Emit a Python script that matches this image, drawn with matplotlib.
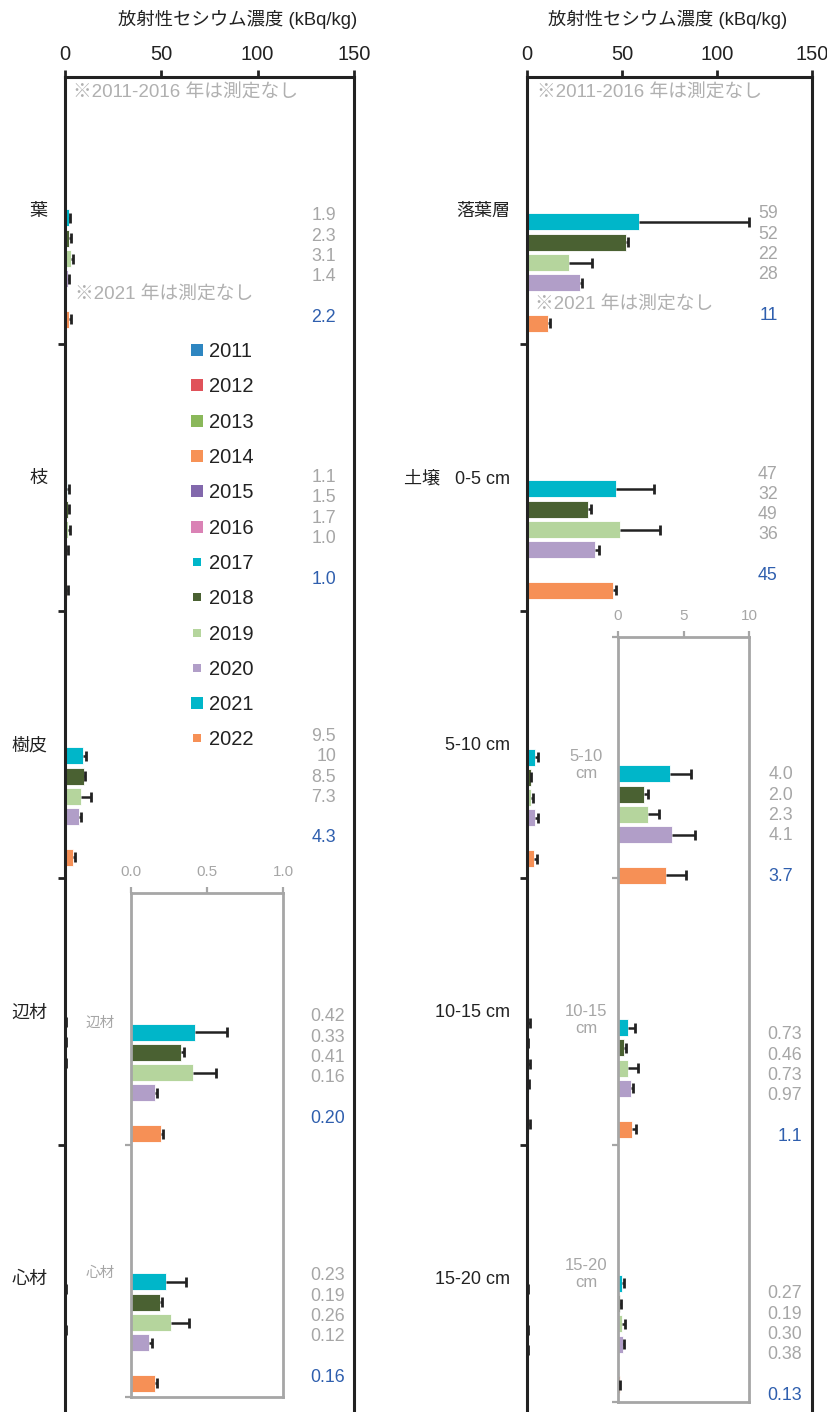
import numpy as np
import matplotlib
matplotlib.use("Agg")
import matplotlib.pyplot as plt
from matplotlib.lines import Line2D

plt.rcParams['font.family'] = ['Liberation Sans', 'Noto Sans CJK JP']

# ---- data ----
years = ['2011', '2012', '2013', '2014', '2015', '2016',
         '2017', '2018', '2019', '2020', '2021', '2022']
year_colors = ['#2e86c1', '#e0525a', '#8ab85a', '#f79256', '#8268ac', '#da82b5',
               '#00b6c9', '#4a6132', '#b5d59d', '#b19ec8', '#00b6c9', '#f69056']
legend_ms = [8, 8, 8, 8, 8, 8, 6, 6, 6, 6, 8, 6]

bar_years = ['2017', '2018', '2019', '2020', '2022']
bar_colors = ['#00b6c9', '#4a6132', '#b5d59d', '#b19ec8', '#f69056']
bar_slots = [0, 1, 2, 3, 5]   # 2021 slot left empty

plant_parts = ['葉', '枝', '樹皮', '辺材', '心材']
plant_vals = [
    [1.9, 2.3, 3.1, 1.4, 2.2],
    [1.1, 1.5, 1.7, 1.0, 1.0],
    [9.5, 10, 8.5, 7.3, 4.3],
    [0.42, 0.33, 0.41, 0.16, 0.20],
    [0.23, 0.19, 0.26, 0.12, 0.16],
]
plant_errs = [
    [0.8, 0.8, 1.0, 0.6, 0.8],
    [0.8, 0.7, 0.9, 0.4, 0.3],
    [1.5, 0.6, 5.0, 1.0, 0.8],
    [0.21, 0.02, 0.15, 0.01, 0.01],
    [0.13, 0.015, 0.12, 0.015, 0.01],
]
plant_texts = [
    ['1.9', '2.3', '3.1', '1.4', '2.2'],
    ['1.1', '1.5', '1.7', '1.0', '1.0'],
    ['9.5', '10', '8.5', '7.3', '4.3'],
    ['0.42', '0.33', '0.41', '0.16', '0.20'],
    ['0.23', '0.19', '0.26', '0.12', '0.16'],
]

soil_layers = ['落葉層', '土壌   0-5 cm', '5-10 cm', '10-15 cm', '15-20 cm']
soil_vals = [
    [59, 52, 22, 28, 11],
    [47, 32, 49, 36, 45],
    [4.0, 2.0, 2.3, 4.1, 3.7],
    [0.73, 0.46, 0.73, 0.97, 1.1],
    [0.27, 0.19, 0.30, 0.38, 0.13],
]
soil_errs = [
    [58, 1.0, 12, 1.0, 1.0],
    [20, 1.5, 21, 2.0, 2.0],
    [1.6, 0.3, 0.8, 1.8, 1.5],
    [0.6, 0.15, 0.8, 0.15, 0.3],
    [0.2, 0.05, 0.2, 0.1, 0.05],
]
soil_texts = [
    ['59', '52', '22', '28', '11'],
    ['47', '32', '49', '36', '45'],
    ['4.0', '2.0', '2.3', '4.1', '3.7'],
    ['0.73', '0.46', '0.73', '0.97', '1.1'],
    ['0.27', '0.19', '0.30', '0.38', '0.13'],
]

# ---- layout ----
W, H = 827, 1412
TOP = 77
SEC = 267.0
STEP = 20.3 / SEC
BAR_H = 17.0 / SEC
GRAY = '#a6a6a6'
NOTE = '#b0b0b0'
BLUE = '#2f5fae'
DARK = '#222222'


def fig_rect(x0, y0, x1, y1):
    return [x0 / W, 1 - y1 / H, (x1 - x0) / W, (y1 - y0) / H]


def unit(py):
    return (py - TOP) / SEC


def draw_bars(ax, vals, errs, groups, offs):
    for g in groups:
        for k in range(5):
            y = g + offs[g] + bar_slots[k] * STEP
            ax.barh(y, vals[g][k], height=BAR_H, color=bar_colors[k],
                    edgecolor='white', linewidth=0.6, zorder=2)
            eb = ax.errorbar(vals[g][k], y, xerr=[[0], [errs[g][k]]], fmt='none',
                             ecolor=DARK, elinewidth=1.8, capsize=3.3, capthick=2.0,
                             zorder=3)
            eb[1][0].set_visible(False)


def draw_texts(ax, texts, groups, offs, xs):
    for g in groups:
        for k in range(5):
            c = BLUE if bar_years[k] == '2022' else GRAY
            ax.text(xs[g], g + offs[g] + bar_slots[k] * STEP, texts[g][k],
                    ha='right', va='center', color=c, fontsize=12.8)


def style_main(ax, title, title_x, cats):
    ax.set_xlim(0, 150)
    ax.set_ylim(5, 0)
    ax.xaxis.set_ticks_position('top')
    ax.set_xticks([0, 50, 100, 150])
    ax.tick_params(axis='x', labelsize=14.5, length=5, width=2, pad=4, colors=DARK)
    ax.set_yticks([1, 2, 3, 4])
    ax.set_yticklabels([])
    ax.tick_params(axis='y', length=5, width=2, colors=DARK)
    for s in ['top', 'left', 'right']:
        ax.spines[s].set_linewidth(2.2)
        ax.spines[s].set_color(DARK)
    ax.spines['bottom'].set_visible(False)
    ax.text(title_x, 1 - 19 / H, title, transform=ax.figure.transFigure,
            ha='center', va='center', fontsize=13.2, color=DARK)
    tr = ax.get_yaxis_transform()
    for g, c in enumerate(cats):
        ax.text(-0.06, g + 0.505, c, transform=tr, ha='right', va='center',
                fontsize=13, color=DARK)


def style_inset(ax, xmax, ticks, ticklabels, ylim, yt):
    ax.set_xlim(0, xmax)
    ax.set_ylim(*ylim)
    ax.xaxis.set_ticks_position('top')
    ax.set_xticks(ticks)
    ax.set_xticklabels(ticklabels)
    ax.tick_params(axis='x', labelsize=11, length=4, width=1.6, colors=GRAY,
                   labelcolor=GRAY, pad=6)
    ax.set_yticks(yt)
    ax.set_yticklabels([])
    ax.tick_params(axis='y', length=4, width=1.6, colors=GRAY)
    for s in ax.spines.values():
        s.set_linewidth(2.0)
        s.set_color(GRAY)


fig = plt.figure(figsize=(W / 100, H / 100), dpi=100)
title = '放射性セシウム濃度 (kBq/kg)'

# left panel: plant parts
axL = fig.add_axes(fig_rect(65, TOP, 354, H))
style_main(axL, title, 238 / W, plant_parts)
draw_bars(axL, plant_vals, plant_errs, range(5), [0.528, 0.543, 0.543, 0.54, 0.54])
draw_texts(axL, plant_texts, range(3), [0.52, 0.50, 0.47], [140.7, 140.7, 140.7])
axL.text(4.2, unit(93), '※2011-2016 年は測定なし', color=NOTE, fontsize=13.5, va='center')
axL.text(5.2, unit(295), '※2021 年は測定なし', color=NOTE, fontsize=13.5, va='center')

handles = [Line2D([], [], marker='s', linestyle='none', markersize=ms, color=c,
                  markeredgewidth=0) for c, ms in zip(year_colors, legend_ms)]
fig.legend(handles, years, loc='upper left', bbox_to_anchor=(182 / W, 1 - 334 / H),
           frameon=False, fontsize=14.5, labelspacing=0.81, handlelength=0.7,
           handletextpad=0.25, borderaxespad=0, labelcolor=DARK)

insL = fig.add_axes(fig_rect(131, 893, 283, 1397))
style_inset(insL, 1.0, [0, 0.5, 1.0], ['0.0', '0.5', '1.0'],
            (unit(1397), unit(893)), [4, unit(1397)])
draw_bars(insL, plant_vals, plant_errs, [3, 4], {3: 0.577, 4: 0.513})
draw_texts(axL, plant_texts, [3, 4], {3: 0.52, 4: 0.49}, {3: 145.3, 4: 145.3})
trL = insL.get_yaxis_transform()
insL.text(-0.204, unit(1023), '辺材', transform=trL, ha='center', va='center',
          color=GRAY, fontsize=10.5)
insL.text(-0.204, unit(1273), '心材', transform=trL, ha='center', va='center',
          color=GRAY, fontsize=10.5)

# right panel: litter and soil
axR = fig.add_axes(fig_rect(527, TOP, 812, H))
style_main(axR, title, 668 / W, soil_layers)
draw_bars(axR, soil_vals, soil_errs, range(5), [0.543, 0.543, 0.547, 0.543, 0.54])
draw_texts(axR, soil_texts, range(2), [0.513, 0.487], [132, 132])
axR.text(5.3, unit(93), '※2011-2016 年は測定なし', color=NOTE, fontsize=13.5, va='center')
axR.text(4.2, unit(305), '※2021 年は測定なし', color=NOTE, fontsize=13.5, va='center')

insR = fig.add_axes(fig_rect(618, 637, 749, 1402))
style_inset(insR, 10, [0, 5, 10], ['0', '5', '10'],
            (unit(1402), unit(637)), [unit(637), 3, 4, unit(1402)])
draw_bars(insR, soil_vals, soil_errs, [2, 3, 4], {2: 0.61, 3: 0.56, 4: 0.518})
draw_texts(axR, soil_texts, [2, 3, 4], {2: 0.614, 3: 0.588, 4: 0.558},
           {2: 140, 3: 144.7, 4: 144.7})
trR = insR.get_yaxis_transform()
for g, lab, py in [(2, '5-10\ncm', 765), (3, '10-15\ncm', 1020), (4, '15-20\ncm', 1274)]:
    insR.text(-0.244, unit(py), lab, transform=trR, ha='center', va='center',
              color=GRAY, fontsize=12, linespacing=1.2)

fig.savefig('out.png', dpi=100)
